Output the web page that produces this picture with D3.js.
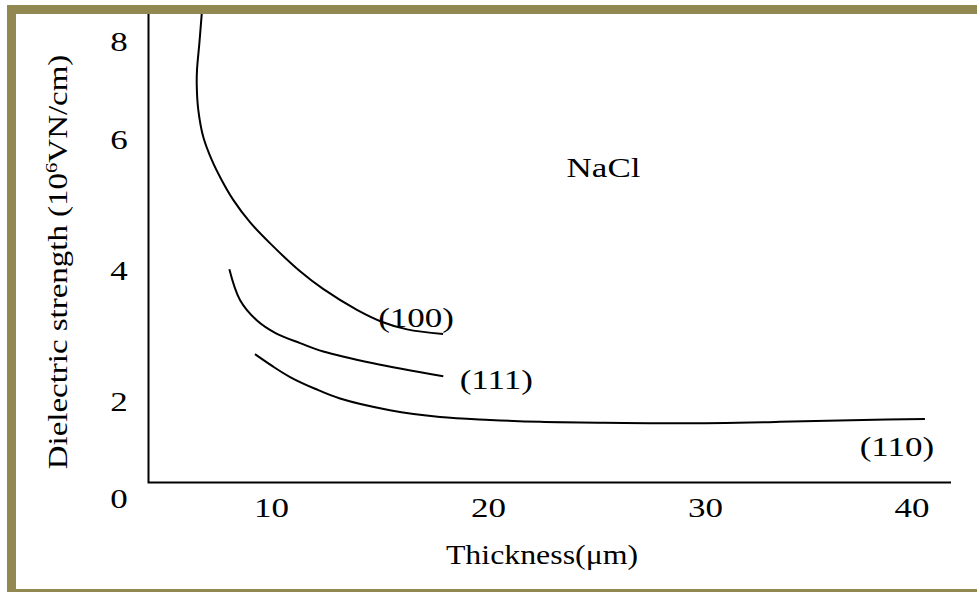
<!DOCTYPE html>
<html>
<head>
<meta charset="utf-8">
<script src="https://cdn.jsdelivr.net/npm/d3@7"></script>
<style>
  html, body { margin: 0; padding: 0; background: #fff; }
  svg { display: block; }
  text { font-family: "Liberation Serif", "Times New Roman", serif; fill: #000; }
</style>
</head>
<body>
<svg id="chart" width="977" height="592"></svg>
<script>
// Dielectric strength of NaCl crystals vs. thickness, three orientations
const xTicks = [10, 20, 30, 40];
const yTicks = [0, 2, 4, 6, 8];

const thickness100 = [6.82, 6.70, 6.59, 6.58, 6.65, 6.88, 7.27, 7.73, 8.26, 9.03, 9.95, 11.34, 12.40, 13.96, 15.16, 16.27, 17.93];
const strength100  = [8.62, 7.96, 7.41, 7.06, 6.59, 6.04, 5.68, 5.37, 5.07, 4.73, 4.41, 3.98, 3.71, 3.39, 3.20, 3.09, 3.02];

const thickness111 = [8.08, 8.57, 9.34, 10.23, 11.34, 12.41, 14.71, 17.94];
const strength111  = [4.01, 3.54, 3.23, 3.03, 2.88, 2.75, 2.57, 2.37];

const thickness110 = [9.26, 10.05, 10.88, 12.03, 13.18, 15.48, 17.79, 20.09, 22.40, 25.16, 28.85, 33.63, 37.65, 40.65];
const strength110  = [2.71, 2.53, 2.36, 2.18, 2.03, 1.80, 1.66, 1.60, 1.56, 1.54, 1.53, 1.56, 1.60, 1.62];

const seriesNames = ["(100)", "(111)", "(110)"];
const materialName = "NaCl";

const svg = d3.select("#chart");

// hand-drawn axis: tick spacing is not uniform, so use piecewise scales
const x = d3.scaleLinear().domain(xTicks).range([271, 488, 705, 911.5]);
const y = d3.scaleLinear().domain(yTicks).range([497.5, 400.5, 270, 139, 41]);

const series = [
  { name: seriesNames[0], xs: thickness100, ys: strength100, dx: -27, dy: -7 },
  { name: seriesNames[1], xs: thickness111, ys: strength111, dx: 53,  dy: 13 },
  { name: seriesNames[2], xs: thickness110, ys: strength110, dx: -28, dy: 37 }
];

const line = d3.line()
  .x(d => x(d[0]))
  .y(d => y(d[1]))
  .curve(d3.curveCatmullRom.alpha(0.5));

const curves = svg.append("g");
series.forEach(s => {
  const pts = s.xs.map((v, i) => [v, s.ys[i]]);
  curves.append("path")
    .attr("d", line(pts))
    .attr("fill", "none")
    .attr("stroke", "#000")
    .attr("stroke-width", 2);
  const last = pts[pts.length - 1];
  svg.append("text")
    .attr("transform", `translate(${x(last[0]) + s.dx},${y(last[1]) + s.dy}) scale(1.25,1)`)
    .attr("text-anchor", "middle")
    .attr("font-size", 28)
    .text(s.name);
});

// frame lines (left and bottom)
svg.append("path")
  .attr("d", "M148.5,10 V482.5 H951")
  .attr("fill", "none")
  .attr("stroke", "#000")
  .attr("stroke-width", 2);

// y tick labels
const yAxis = svg.append("g")
  .attr("transform", "translate(119,0)")
  .call(d3.axisLeft(y).tickValues(yTicks).tickSize(0).tickPadding(0).tickFormat(d3.format("d")));
yAxis.select(".domain").remove();
yAxis.selectAll("text")
  .attr("x", 0)
  .attr("dy", "0.35em")
  .attr("text-anchor", "middle")
  .attr("font-size", 28)
  .attr("font-family", "Liberation Serif, Times New Roman, serif")
  .attr("fill", "#000")
  .attr("transform", "scale(1.25,1)");

// x tick labels
const xAxis = svg.append("g")
  .attr("transform", "translate(0,507.5)")
  .call(d3.axisBottom(x).tickValues(xTicks).tickSize(0).tickPadding(0).tickFormat(d3.format("d")));
xAxis.select(".domain").remove();
xAxis.selectAll("text")
  .attr("y", 0)
  .attr("dy", "0.35em")
  .attr("text-anchor", "middle")
  .attr("font-size", 28)
  .attr("font-family", "Liberation Serif, Times New Roman, serif")
  .attr("fill", "#000")
  .attr("transform", "scale(1.25,1)");

// axis titles
svg.append("text")
  .attr("transform", "translate(542,564) scale(1.18,1)")
  .attr("text-anchor", "middle")
  .attr("font-size", 27)
  .text("Thickness(\u03bcm)");

const yTitle = svg.append("text")
  .attr("transform", "translate(67,262) rotate(-90) scale(1.22,1)")
  .attr("text-anchor", "middle")
  .attr("font-size", 27);
yTitle.append("tspan").text("Dielectric strength (10");
yTitle.append("tspan").attr("font-size", 17).attr("dy", -10).text("6");
yTitle.append("tspan").attr("dy", 10).text("VN/cm)");

// material label
svg.append("text")
  .attr("transform", "translate(603.5,177) scale(1.25,1)")
  .attr("text-anchor", "middle")
  .attr("font-size", 28)
  .text(materialName);

// olive frame (top, left, bottom)
const frameColor = "#928852";
svg.append("rect").attr("x", 7).attr("y", 5).attr("width", 970).attr("height", 9).attr("fill", frameColor);
svg.append("rect").attr("x", 7).attr("y", 5).attr("width", 9).attr("height", 587).attr("fill", frameColor);
svg.append("rect").attr("x", 7).attr("y", 589).attr("width", 970).attr("height", 3).attr("fill", frameColor);
</script>
</body>
</html>
